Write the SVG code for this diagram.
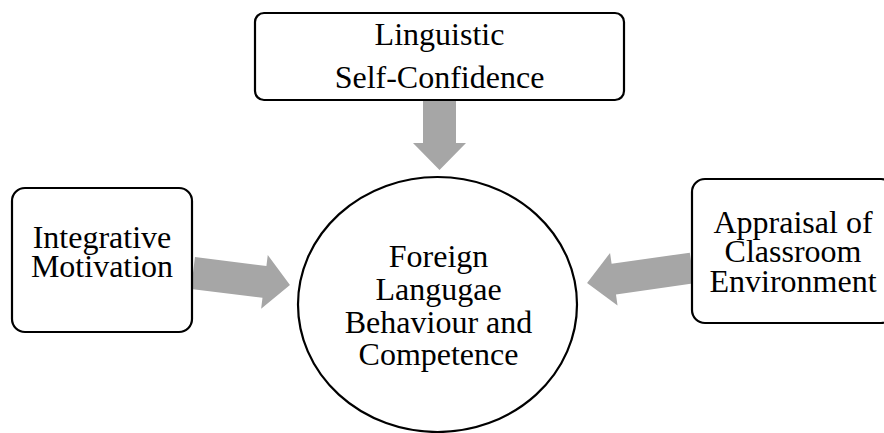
<svg xmlns="http://www.w3.org/2000/svg" width="884" height="433" viewBox="0 0 884 433">
<style>
.box{fill:#fff;stroke:#000;stroke-width:2.2}
.arr{fill:#a6a6a6}
text{font-family:"Liberation Serif","Times New Roman",serif;font-size:32px;fill:#000;text-anchor:middle}
</style>
<rect width="884" height="433" fill="#fff"/>
<g id="connectors">
<polygon class="arr" points="423,101 456,101 456,143 466,143 439.5,170 413,143 423,143"/>
<polygon class="arr" transform="translate(193,273) rotate(7.05)" points="0,-16 72,-16 72,-27 97.7,0 72,27 72,16 0,16"/>
<polygon class="arr" transform="translate(692,268) rotate(171.87)" points="0,-15.5 79,-15.5 79,-26.5 106,0 79,26.5 79,15.5 0,15.5"/>
</g>
<g id="top">
<rect class="box" x="255" y="13" width="369" height="87" rx="9"/>
<text x="439.5" y="45">Linguistic</text>
<text x="439.5" y="88">Self-Confidence</text>
</g>
<g id="left">
<rect class="box" x="12" y="188" width="180" height="144" rx="13"/>
<text x="102" y="248">Integrative</text>
<text x="102" y="277">Motivation</text>
</g>
<g id="right">
<rect class="box" x="692" y="179" width="202" height="144" rx="13"/>
<text x="793" y="233">Appraisal of</text>
<text x="793" y="262">Classroom</text>
<text x="793" y="292">Environment</text>
</g>
<g id="center">
<ellipse class="box" cx="437.5" cy="304.5" rx="139.5" ry="127.5"/>
<text x="438.5" y="267">Foreign</text>
<text x="438.5" y="300">Langugae</text>
<text x="438.5" y="333">Behaviour and</text>
<text x="438.5" y="365">Competence</text>
</g>
</svg>
